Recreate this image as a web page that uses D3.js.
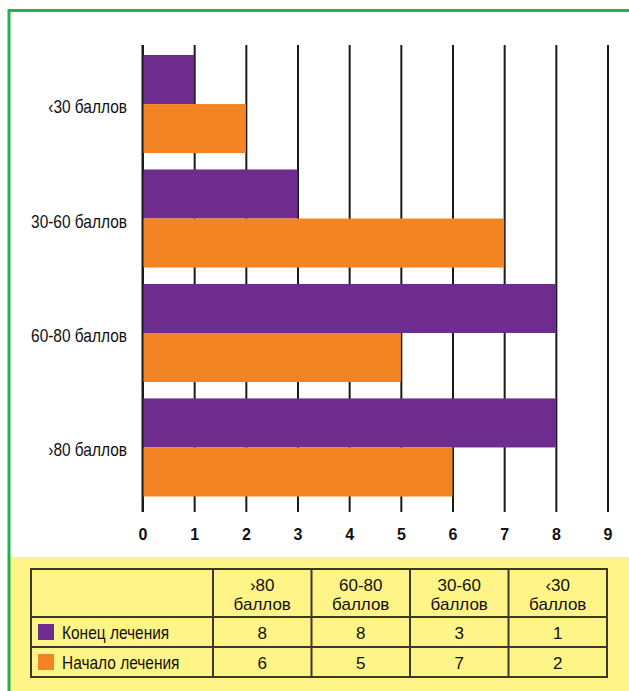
<!DOCTYPE html>
<meta charset="utf-8">
<style>
    body {
        margin: 0;
        background: #fff;
    }
    svg {
        display: block;
    }
    text {
        font-family: "Liberation Sans", Arial, sans-serif;
        fill: #111;
    }
</style>

<body>
    <script src="https://cdnjs.cloudflare.com/ajax/libs/d3/7.8.5/d3.min.js"></script>
    <script>
        // data
        var categories = ["›80 баллов", "60-80 баллов", "30-60 баллов", "‹30 баллов"],
            tableHead = [["›80", "баллов"], ["60-80", "баллов"], ["30-60", "баллов"], ["‹30", "баллов"]],
            seriesNames = ["Конец лечения", "Начало лечения"],
            endValues = [8, 8, 3, 1],
            startValues = [6, 5, 7, 2],
            xTicks = [0, 1, 2, 3, 4, 5, 6, 7, 8, 9];

        var colors = ["#6f2c8f", "#f28424"];
        var series = [endValues, startValues];

        var width = 629,
            height = 691,
            squeeze = 0.86; // the original type is a condensed face

        var svg = d3.select("body").append("svg")
            .attr("width", width)
            .attr("height", height);

        // frame + yellow table area
        svg.append("rect")
            .attr("x", 10).attr("y", 557)
            .attr("width", width - 10).attr("height", height - 557)
            .attr("fill", "#fff488");
        svg.append("path")
            .attr("d", "M9,691V10.5H629")
            .attr("fill", "none")
            .attr("stroke", "#22b14c")
            .attr("stroke-width", 3);

        var x = d3.scaleLinear()
            .domain([0, 9])
            .range([142.5, 607.5]);

        var y = d3.scaleBand()
            .domain(categories.slice().reverse())
            .range([55, 496.5])
            .paddingInner(0.143);

        var ySub = d3.scaleBand()
            .domain(d3.range(series.length))
            .range([0, y.bandwidth()]);

        // grid lines (behind the bars)
        var axis = svg.append("g")
            .attr("transform", "translate(0,512)")
            .call(d3.axisBottom(x)
                .tickValues(xTicks)
                .tickSize(-(512 - 45))
                .tickPadding(17)
                .tickFormat(d3.format("d")));
        axis.select(".domain").remove();
        axis.selectAll(".tick line")
            .attr("stroke", "#1a1a1a")
            .attr("stroke-width", 2);
        axis.selectAll(".tick text")
            .attr("font-size", 16)
            .attr("font-weight", "bold")
            .attr("fill", "#111")
            .style("font-family", "'Liberation Sans', Arial, sans-serif");

        // bars
        var groups = svg.append("g").selectAll("g")
            .data(categories)
            .join("g")
            .attr("transform", function (d) { return "translate(0," + y(d) + ")"; });

        groups.selectAll("rect")
            .data(function (d, i) { return series.map(function (s, k) { return { k: k, v: s[i] }; }); })
            .join("rect")
            .attr("x", x(0))
            .attr("y", function (d) { return ySub(d.k); })
            .attr("width", function (d) { return x(d.v) - x(0); })
            .attr("height", ySub.bandwidth())
            .attr("fill", function (d) { return colors[d.k]; });

        // zero line on top
        svg.append("line")
            .attr("x1", x(0)).attr("x2", x(0))
            .attr("y1", 45).attr("y2", 512)
            .attr("stroke", "#1a1a1a")
            .attr("stroke-width", 2);

        // category labels
        svg.append("g").selectAll("text")
            .data(categories)
            .join("text")
            .attr("transform", function (d) {
                return "translate(127," + (y(d) + y.bandwidth() / 2 + 9) + ") scale(" + squeeze + ",1)";
            })
            .attr("text-anchor", "end")
            .attr("font-size", 18)
            .text(function (d) { return d; });

        // table
        var tLeft = 31, tRight = 607, firstCol = 213;
        var rowY = [569, 617, 647, 677];

        var col = d3.scaleBand()
            .domain(d3.range(categories.length))
            .range([firstCol, tRight]);

        var table = svg.append("g");
        var lineColor = "#3b3826";

        table.append("rect")
            .attr("x", tLeft).attr("y", rowY[0])
            .attr("width", tRight - tLeft).attr("height", rowY[3] - rowY[0])
            .attr("fill", "none")
            .attr("stroke", lineColor)
            .attr("stroke-width", 2);

        table.selectAll(".hline")
            .data(rowY.slice(1, 3))
            .join("line")
            .attr("x1", tLeft).attr("x2", tRight)
            .attr("y1", function (d) { return d; }).attr("y2", function (d) { return d; })
            .attr("stroke", lineColor)
            .attr("stroke-width", 2);

        table.selectAll(".vline")
            .data(col.domain())
            .join("line")
            .attr("x1", function (d) { return col(d); }).attr("x2", function (d) { return col(d); })
            .attr("y1", rowY[0]).attr("y2", rowY[3])
            .attr("stroke", lineColor)
            .attr("stroke-width", 2);

        // header, two lines per cell
        table.append("g").selectAll("g")
            .data(tableHead)
            .join("g")
            .each(function (d, i) {
                d3.select(this).selectAll("text")
                    .data(d)
                    .join("text")
                    .attr("x", col(i) + col.bandwidth() / 2)
                    .attr("y", function (t, j) { return 591 + j * 19; })
                    .attr("text-anchor", "middle")
                    .attr("font-size", 17)
                    .text(function (t) { return t; });
            });

        // series rows
        series.forEach(function (s, k) {
            var top = rowY[k + 1], bottom = rowY[k + 2];
            var base = (top + bottom) / 2 + 7;
            table.append("rect")
                .attr("x", 38).attr("y", top + 7)
                .attr("width", 16).attr("height", 16)
                .attr("fill", colors[k]);
            table.append("text")
                .attr("transform", "translate(62," + base + ") scale(" + squeeze + ",1)")
                .attr("font-size", 18)
                .text(seriesNames[k]);
            table.append("g").selectAll("text")
                .data(s)
                .join("text")
                .attr("x", function (d, i) { return col(i) + col.bandwidth() / 2; })
                .attr("y", base)
                .attr("text-anchor", "middle")
                .attr("font-size", 17)
                .text(function (d) { return d; });
        });
    </script>
